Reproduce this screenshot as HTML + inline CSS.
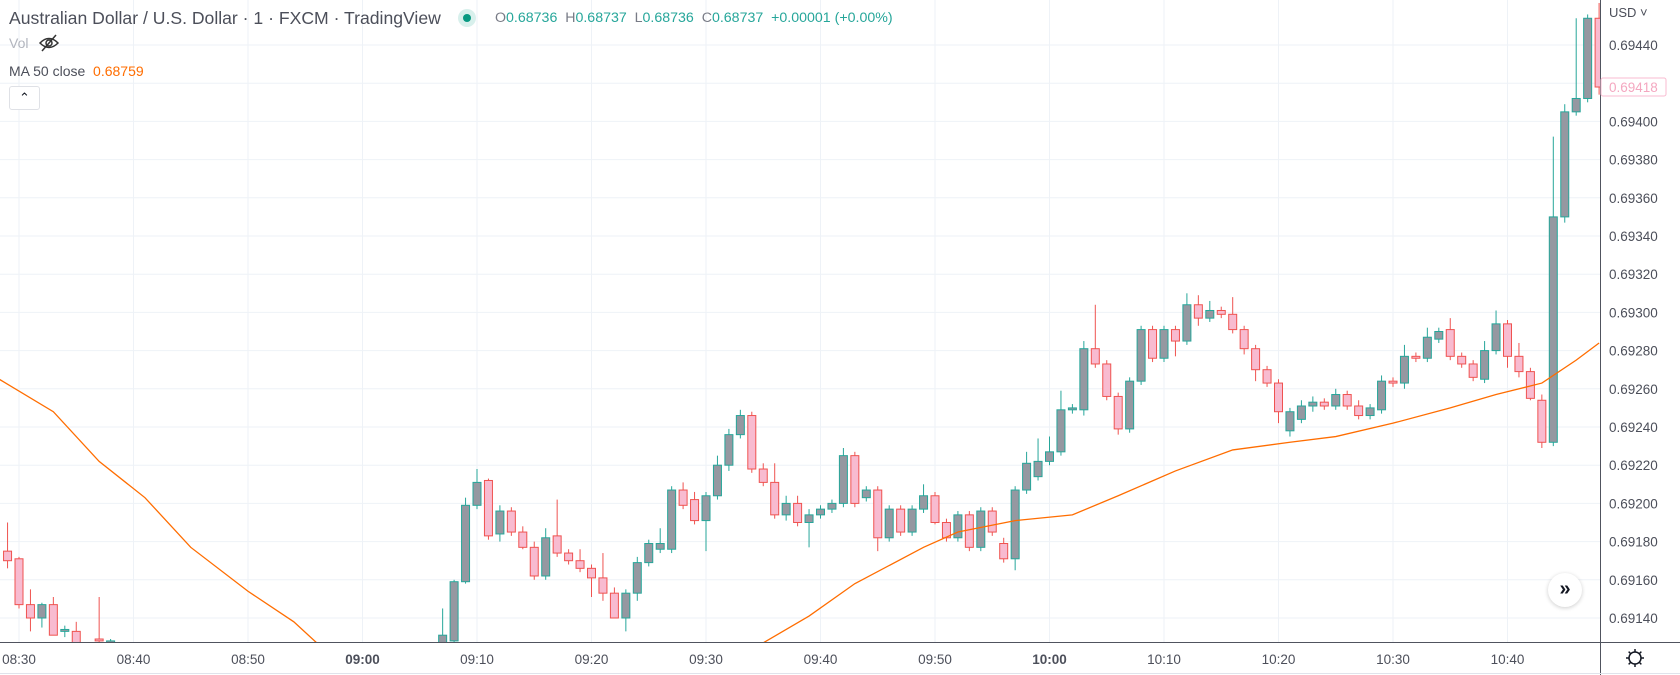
<!DOCTYPE html>
<html><head><meta charset="utf-8">
<style>
html,body{margin:0;padding:0;background:#fff;width:1680px;height:675px;overflow:hidden;}
body{position:relative;font-family:"Liberation Sans",sans-serif;}
svg{position:absolute;left:0;top:0;display:block;}
.hdr{position:absolute;white-space:nowrap;}
</style></head>
<body>
<svg id="chart" width="1680" height="675"></svg>

<div class="hdr" style="left:9px;top:8px;font-size:17.6px;color:#4c4f5a;">Australian Dollar / U.S. Dollar · 1 · FXCM · TradingView</div>
<div class="hdr" style="left:458px;top:9px;width:18px;height:18px;border-radius:50%;background:#d8f0ec;"></div>
<div class="hdr" style="left:463px;top:14px;width:8px;height:8px;border-radius:50%;background:#089981;"></div>
<div class="hdr" style="left:495px;top:10px;font-size:14.2px;color:#26a69a;">
<span style="color:#787b86">O</span>0.68736&nbsp; <span style="color:#787b86">H</span>0.68737&nbsp; <span style="color:#787b86">L</span>0.68736&nbsp; <span style="color:#787b86">C</span>0.68737&nbsp; +0.00001 (+0.00%)</div>
<div class="hdr" style="left:9px;top:35px;font-size:14px;color:#b2b5be;">Vol</div>
<svg width="22" height="18" style="left:38px;top:34px;" viewBox="0 0 22 18"><path d="M2 9 Q11 0 20 9 Q11 18 2 9Z" fill="none" stroke="#333" stroke-width="1.5"/><circle cx="11" cy="9" r="3" fill="none" stroke="#333" stroke-width="1.5"/><line x1="4" y1="17" x2="18" y2="1" stroke="#333" stroke-width="1.5"/></svg>
<div class="hdr" style="left:9px;top:63px;font-size:14px;color:#4c4f5a;">MA 50 close&nbsp; <span style="color:#ff6d00">0.68759</span></div>
<div class="hdr" style="left:9px;top:86px;width:29px;height:22px;border:1px solid #dfe1e6;border-radius:3px;background:#fff;text-align:center;font-size:13px;line-height:22px;color:#131722;">&#8963;</div>
<div class="hdr" style="left:1548px;top:573px;width:34px;height:34px;border-radius:50%;background:#fff;box-shadow:0 1px 4px rgba(0,0,0,0.2);text-align:center;line-height:32px;font-size:20px;font-weight:bold;color:#131722;">»</div>

<script>
const times=["08:29","08:30","08:31","08:32","08:33","08:34","08:35","08:37","08:38","09:07","09:08","09:09","09:10","09:11","09:12","09:13","09:14","09:15","09:16","09:17","09:18","09:19","09:20","09:21","09:22","09:23","09:24","09:25","09:26","09:27","09:28","09:29","09:30","09:31","09:32","09:33","09:34","09:35","09:36","09:37","09:38","09:39","09:40","09:41","09:42","09:43","09:44","09:45","09:46","09:47","09:48","09:49","09:50","09:51","09:52","09:53","09:54","09:55","09:56","09:57","09:58","09:59","10:00","10:01","10:02","10:03","10:04","10:05","10:06","10:07","10:08","10:09","10:10","10:11","10:12","10:13","10:14","10:15","10:16","10:17","10:18","10:19","10:20","10:21","10:22","10:23","10:24","10:25","10:26","10:27","10:28","10:29","10:30","10:31","10:32","10:33","10:34","10:35","10:36","10:37","10:38","10:39","10:40","10:41","10:42","10:43","10:44","10:45","10:46","10:47","10:48"];
const opens=[0.69175,0.69171,0.69147,0.69140,0.69147,0.69133,0.69133,0.69129,0.69127,0.69127,0.69128,0.69159,0.69199,0.69212,0.69184,0.69196,0.69185,0.69177,0.69162,0.69183,0.69174,0.69170,0.69166,0.69161,0.69153,0.69140,0.69153,0.69169,0.69176,0.69176,0.69207,0.69202,0.69191,0.69204,0.69220,0.69236,0.69246,0.69218,0.69211,0.69194,0.69200,0.69190,0.69194,0.69197,0.69200,0.69225,0.69203,0.69207,0.69182,0.69197,0.69185,0.69197,0.69204,0.69190,0.69182,0.69194,0.69177,0.69196,0.69179,0.69171,0.69207,0.69214,0.69222,0.69227,0.69249,0.69249,0.69281,0.69273,0.69256,0.69239,0.69264,0.69291,0.69276,0.69291,0.69285,0.69304,0.69297,0.69301,0.69299,0.69291,0.69281,0.69270,0.69263,0.69238,0.69244,0.69251,0.69253,0.69251,0.69257,0.69251,0.69246,0.69249,0.69264,0.69263,0.69277,0.69276,0.69286,0.69291,0.69277,0.69273,0.69265,0.69280,0.69294,0.69277,0.69269,0.69254,0.69232,0.69350,0.69405,0.69412,0.69454];
const highs=[0.69190,0.69172,0.69155,0.69148,0.69151,0.69136,0.69138,0.69151,0.69129,0.69145,0.69160,0.69203,0.69218,0.69213,0.69199,0.69198,0.69188,0.69180,0.69187,0.69202,0.69176,0.69176,0.69168,0.69174,0.69156,0.69155,0.69172,0.69181,0.69187,0.69209,0.69211,0.69206,0.69206,0.69225,0.69239,0.69249,0.69248,0.69221,0.69221,0.69204,0.69204,0.69197,0.69199,0.69202,0.69229,0.69227,0.69209,0.69209,0.69199,0.69199,0.69199,0.69210,0.69206,0.69192,0.69196,0.69196,0.69198,0.69198,0.69182,0.69209,0.69227,0.69234,0.69235,0.69259,0.69252,0.69285,0.69304,0.69275,0.69258,0.69266,0.69293,0.69293,0.69293,0.69293,0.69310,0.69309,0.69306,0.69303,0.69308,0.69293,0.69283,0.69272,0.69265,0.69250,0.69254,0.69256,0.69255,0.69260,0.69259,0.69254,0.69252,0.69267,0.69266,0.69283,0.69279,0.69292,0.69292,0.69297,0.69279,0.69275,0.69285,0.69301,0.69296,0.69284,0.69271,0.69257,0.69392,0.69409,0.69454,0.69456,0.69462];
const lows=[0.69166,0.69145,0.69133,0.69135,0.69131,0.69130,0.69127,0.69121,0.69124,0.69124,0.69127,0.69158,0.69197,0.69181,0.69180,0.69183,0.69176,0.69160,0.69160,0.69172,0.69168,0.69164,0.69151,0.69149,0.69140,0.69133,0.69149,0.69167,0.69174,0.69174,0.69197,0.69189,0.69175,0.69202,0.69217,0.69234,0.69216,0.69209,0.69192,0.69191,0.69188,0.69177,0.69192,0.69195,0.69198,0.69198,0.69201,0.69175,0.69180,0.69183,0.69183,0.69195,0.69189,0.69180,0.69180,0.69175,0.69175,0.69183,0.69169,0.69165,0.69205,0.69212,0.69220,0.69225,0.69247,0.69246,0.69271,0.69254,0.69236,0.69237,0.69262,0.69274,0.69274,0.69277,0.69283,0.69293,0.69295,0.69297,0.69289,0.69278,0.69264,0.69261,0.69242,0.69235,0.69242,0.69248,0.69249,0.69249,0.69249,0.69244,0.69244,0.69247,0.69261,0.69260,0.69274,0.69274,0.69284,0.69275,0.69271,0.69264,0.69263,0.69278,0.69271,0.69266,0.69254,0.69229,0.69230,0.69347,0.69403,0.69410,0.69414];
const closes=[0.69170,0.69147,0.69140,0.69147,0.69131,0.69134,0.69127,0.69128,0.69128,0.69131,0.69159,0.69199,0.69211,0.69183,0.69196,0.69185,0.69177,0.69162,0.69182,0.69174,0.69170,0.69166,0.69161,0.69153,0.69140,0.69153,0.69169,0.69179,0.69179,0.69207,0.69199,0.69191,0.69204,0.69220,0.69236,0.69246,0.69218,0.69211,0.69194,0.69200,0.69190,0.69194,0.69197,0.69200,0.69225,0.69200,0.69207,0.69182,0.69197,0.69185,0.69197,0.69204,0.69190,0.69182,0.69194,0.69177,0.69196,0.69185,0.69171,0.69207,0.69221,0.69222,0.69227,0.69249,0.69250,0.69281,0.69273,0.69256,0.69239,0.69264,0.69291,0.69276,0.69291,0.69285,0.69304,0.69297,0.69301,0.69299,0.69291,0.69281,0.69270,0.69263,0.69248,0.69248,0.69251,0.69253,0.69251,0.69257,0.69251,0.69246,0.69250,0.69264,0.69263,0.69277,0.69276,0.69287,0.69290,0.69277,0.69273,0.69266,0.69280,0.69294,0.69277,0.69269,0.69255,0.69232,0.69350,0.69405,0.69412,0.69454,0.69418];
const maTimes=["08:28","08:33","08:37","08:41","08:45","08:50","08:54","08:56","09:05","09:15","09:25","09:35","09:39","09:43","09:49","09:52","09:57","10:02","10:06","10:11","10:16","10:21","10:25","10:30","10:35","10:39","10:43","10:46","10:48"];
const maValues=[0.69266,0.69248,0.69222,0.69203,0.69177,0.69154,0.69138,0.69127,0.69080,0.69070,0.69090,0.69127,0.69141,0.69158,0.69177,0.69185,0.69191,0.69194,0.69204,0.69217,0.69228,0.69232,0.69235,0.69242,0.69250,0.69257,0.69263,0.69275,0.69284];
const priceTicks=[0.69440,0.69420,0.69400,0.69380,0.69360,0.69340,0.69320,0.69300,0.69280,0.69260,0.69240,0.69220,0.69200,0.69180,0.69160,0.69140];
const priceLabels=["0.69440","","0.69400","0.69380","0.69360","0.69340","0.69320","0.69300","0.69280","0.69260","0.69240","0.69220","0.69200","0.69180","0.69160","0.69140"];
const timeTicks=["08:30","08:40","08:50","09:00","09:10","09:20","09:30","09:40","09:50","10:00","10:10","10:20","10:30","10:40"];
const lastPrice=0.69418;

const PLOT_R=1600, PLOT_B=642;
function mins(t){const p=t.split(':');return (+p[0])*60+(+p[1])-510;}
function X(t){return 19+11.45*mins(t);}
function Y(p){return 45+(0.6944-p)/0.0002*38.2;}
const NS="http://www.w3.org/2000/svg";
const svg=document.getElementById('chart');
function mk(tag,attrs,parent){const e=document.createElementNS(NS,tag);for(const k in attrs)e.setAttribute(k,attrs[k]);(parent||svg).appendChild(e);return e;}

const defs=mk('defs',{});
const cp=mk('clipPath',{id:'plotclip'},defs);
mk('rect',{x:0,y:0,width:PLOT_R,height:PLOT_B},cp);

const grid=mk('g',{});


priceTicks.forEach(p=>{const y=Y(p);const l=mk('line',{x1:0,x2:PLOT_R,y1:y,y2:y,stroke:'#eef2f7','stroke-width':1},grid);

});
timeTicks.forEach(t=>{const x=X(t);const l=mk('line',{x1:x,x2:x,y1:0,y2:PLOT_B,stroke:'#eef2f7','stroke-width':1},grid);

});

const plot=mk('g',{'clip-path':'url(#plotclip)'});



times.forEach((t,i)=>{
  const x=X(t),o=opens[i],h=highs[i],l=lows[i],c=closes[i];
  const bull=c>=o;
  const g=mk('g',{},plot);
  
  
  const edge=bull?'#26a69a':'#ef5350';
  mk('line',{x1:x,x2:x,y1:Y(h),y2:Y(l),stroke:edge,'stroke-width':1},g);
  const top=Y(Math.max(o,c)),bot=Y(Math.min(o,c));
  mk('rect',{x:x-4,y:top,width:8,height:Math.max(1,bot-top),fill:bull?'#9598a1':'#f8bbd0',stroke:edge,'stroke-width':1},g);
});

const ma=mk('polyline',{points:maTimes.map((t,i)=>X(t)+','+Y(maValues[i])).join(' '),fill:'none',stroke:'#ff6d00','stroke-width':1.3},plot);



const pa=mk('line',{x1:PLOT_R+0.5,x2:PLOT_R+0.5,y1:0,y2:675,stroke:'#50535e','stroke-width':1});


const ta=mk('line',{x1:0,x2:PLOT_R,y1:PLOT_B+0.5,y2:PLOT_B+0.5,stroke:'#50535e','stroke-width':1});


const tb=mk('line',{x1:0,x2:1680,y1:673.5,y2:673.5,stroke:'#e0e3eb','stroke-width':1});


const tb2=mk('line',{x1:PLOT_R,x2:1680,y1:PLOT_B+0.5,y2:PLOT_B+0.5,stroke:'#50535e','stroke-width':1});



priceTicks.forEach((p,i)=>{if(!priceLabels[i])return;
  const tx=mk('text',{x:1609,y:Y(p)+5,'font-size':13.5,fill:'#4c4f5a','font-family':'Liberation Sans, sans-serif'});
  tx.textContent=priceLabels[i];
  
  });
timeTicks.forEach(t=>{
  const bold=t.endsWith(':00');
  const tx=mk('text',{x:X(t),y:664,'text-anchor':'middle','font-size':13.5,'font-weight':bold?'bold':'normal',fill:'#4c4f5a','font-family':'Liberation Sans, sans-serif'});
  tx.textContent=t;
  
  });

const usd=mk('text',{x:1609,y:17,'font-size':13,fill:'#4c4f5a','font-family':'Liberation Sans, sans-serif'});
usd.textContent='USD ˅';



const ly=Y(lastPrice);
const lbox=mk('rect',{x:1601,y:ly-9,width:65,height:18,fill:'#fff',stroke:'#f8bbd0','stroke-width':1,rx:2});


const ltx=mk('text',{x:1609,y:ly+5,'font-size':13.5,fill:'#f4a7c0','font-family':'Liberation Sans, sans-serif'});
ltx.textContent=lastPrice.toFixed(5);



const gear=mk('g',{transform:'translate(1635,658)'});


mk('circle',{cx:0,cy:0,r:6,fill:'none',stroke:'#131722','stroke-width':1.5},gear);
for(let k=0;k<8;k++){const a=k*Math.PI/4;mk('line',{x1:6*Math.cos(a),y1:6*Math.sin(a),x2:9*Math.cos(a),y2:9*Math.sin(a),stroke:'#131722','stroke-width':1.5},gear);}
</script>
</body></html>
